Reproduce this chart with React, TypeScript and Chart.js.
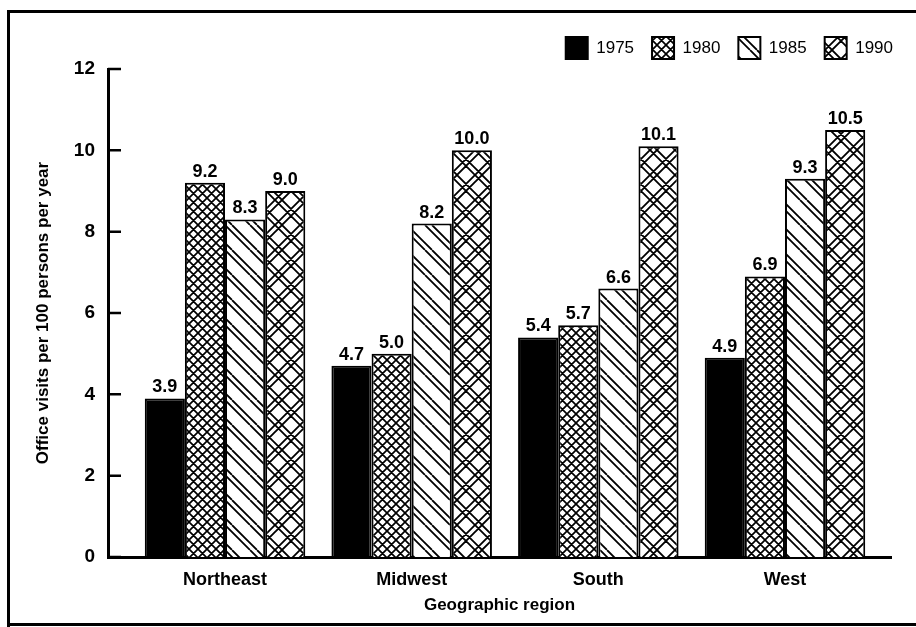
import React, { useEffect, useRef } from "react";
import { Chart, registerables } from "chart.js";

Chart.register(...registerables);

const categories = ["Northeast", "Midwest", "South", "West"];
const years = ["1975", "1980", "1985", "1990"];
const values1975 = [3.9, 4.7, 5.4, 4.9];
const values1980 = [9.2, 5.0, 5.7, 6.9];
const values1985 = [8.3, 8.2, 6.6, 9.3];
const values1990 = [9.0, 10.0, 10.1, 10.5];
const yTicks = [0, 2, 4, 6, 8, 10, 12];
const yTitle = "Office visits per 100 persons per year";
const xTitle = "Geographic region";

const FONT = "'Liberation Sans', Arial, Helvetica, sans-serif";

type Kind = "solid" | "cross" | "back" | "plaid";
const kinds: Kind[] = ["solid", "cross", "back", "plaid"];

function makePattern(ctx: CanvasRenderingContext2D, kind: Kind): CanvasPattern | string {
  if (kind === "solid") return "#000";
  const s = kind === "cross" ? 9 : 25;
  const c = document.createElement("canvas");
  c.width = s;
  c.height = s;
  const g = c.getContext("2d")!;
  g.fillStyle = "#fff";
  g.fillRect(0, 0, s, s);
  g.strokeStyle = "#000";
  g.lineWidth = kind === "cross" ? 1.7 : 1.8;
  g.beginPath();
  const back = (off: number) => {
    for (let k = -1; k <= 1; k++) {
      g.moveTo(k * s + off, 0);
      g.lineTo(k * s + off + s, s);
    }
  };
  const fwd = (off: number) => {
    for (let k = -1; k <= 1; k++) {
      g.moveTo(k * s + off, s);
      g.lineTo(k * s + off + s, 0);
    }
  };
  if (kind === "cross") {
    back(0);
    fwd(0);
  } else if (kind === "back") {
    back(0);
    back(7);
  } else {
    back(0);
    back(7);
    fwd(0);
    fwd(7);
  }
  g.stroke();
  return ctx.createPattern(c, "repeat") as CanvasPattern;
}

const framePlugin = {
  id: "frame",
  beforeDraw(chart: any) {
    const ctx = chart.ctx;
    ctx.save();
    ctx.fillStyle = "#fff";
    ctx.fillRect(0, 0, chart.width, chart.height);
    ctx.strokeStyle = "#000";
    ctx.lineWidth = 3;
    ctx.beginPath();
    ctx.moveTo(8.5, chart.height);
    ctx.lineTo(8.5, 11.5);
    ctx.lineTo(chart.width, 11.5);
    ctx.moveTo(7, 624.5);
    ctx.lineTo(chart.width, 624.5);
    ctx.stroke();
    ctx.restore();
  },
};

const legendShiftPlugin = {
  id: "legendShift",
  afterLayout(chart: any) {
    const l = chart.legend;
    if (l) {
      l.left += 20;
      l.right += 20;
    }
  },
};

const innerTicksPlugin = {
  id: "innerTicks",
  afterDraw(chart: any) {
    const ys = chart.scales.y;
    const ctx = chart.ctx;
    ctx.save();
    ctx.strokeStyle = "#000";
    ctx.lineWidth = 2.5;
    ctx.beginPath();
    ys.ticks.forEach((t: any) => {
      const py = ys.getPixelForValue(t.value);
      ctx.moveTo(ys.right, py);
      ctx.lineTo(ys.right + 13, py);
    });
    ctx.stroke();
    ctx.restore();
  },
};

const valueLabelPlugin = {
  id: "valueLabels",
  afterDatasetsDraw(chart: any) {
    const ctx = chart.ctx;
    ctx.save();
    ctx.font = `bold 18px ${FONT}`;
    ctx.fillStyle = "#000";
    ctx.textAlign = "center";
    ctx.textBaseline = "alphabetic";
    chart.data.datasets.forEach((ds: any, i: number) => {
      const meta = chart.getDatasetMeta(i);
      meta.data.forEach((el: any, j: number) => {
        const v = ds.data[j].y as number;
        ctx.fillText(v.toFixed(1), el.x, el.y - 6);
      });
    });
    ctx.restore();
  },
};

export default function App() {
  const ref = useRef<HTMLCanvasElement>(null);

  useEffect(() => {
    const canvas = ref.current;
    if (!canvas) return;
    const ctx = canvas.getContext("2d")!;
    Chart.defaults.font.family = FONT;
    Chart.defaults.color = "#000";

    const series = [values1975, values1980, values1985, values1990];
    const datasets = years.map((yr, i) => ({
      label: yr,
      data: categories.map((_, j) => ({ x: j, y: series[i][j] })),
      backgroundColor: makePattern(ctx, kinds[i]),
      borderColor: "#000",
      borderWidth: 2,
      categoryPercentage: 0.86,
      barPercentage: 1,
    }));

    const chart = new Chart(canvas, {
      type: "bar",
      data: { datasets } as any,
      options: {
        responsive: false,
        maintainAspectRatio: false,
        animation: false,
        devicePixelRatio: 1,
        layout: { padding: { top: 19, right: 25, bottom: 0, left: 0 } },
        plugins: {
          tooltip: { enabled: false },
          legend: {
            position: "top",
            align: "end",
            labels: {
              boxWidth: 22,
              boxHeight: 22,
              padding: 18,
              color: "#000",
              font: { size: 17, family: FONT },
            },
          },
        },
        scales: {
          x: {
            type: "linear",
            min: -0.627,
            max: 3.568,
            offset: false,
            afterBuildTicks: (s: any) => {
              s.ticks = categories.map((_, i) => ({ value: i }));
            },
            afterFit: (s: any) => {
              s.height = 70;
            },
            ticks: {
              autoSkip: false,
              maxRotation: 0,
              padding: 12,
              color: "#000",
              font: { size: 18, weight: "bold", family: FONT },
              callback: (v: any) => categories[Math.round(Number(v))] ?? "",
            },
            grid: { display: false, drawTicks: false, offset: false },
            border: { display: true, color: "#000", width: 3 },
            title: {
              display: true,
              text: xTitle,
              color: "#000",
              font: { size: 17, weight: "bold", family: FONT },
              padding: { top: 0, bottom: 11 },
            },
          },
          y: {
            type: "linear",
            min: 0,
            max: 12,
            afterBuildTicks: (s: any) => {
              s.ticks = yTicks.map((v) => ({ value: v }));
            },
            afterFit: (s: any) => {
              s.width = 108;
            },
            ticks: {
              padding: 13,
              color: "#000",
              font: { size: 19, weight: "bold", family: FONT },
            },
            grid: { display: false, drawTicks: false },
            border: { display: true, color: "#000", width: 3 },
            title: {
              display: true,
              text: yTitle,
              color: "#000",
              font: { size: 17, weight: "bold", family: FONT },
              padding: { top: 33, bottom: 0 },
            },
          },
        },
      } as any,
      plugins: [framePlugin, legendShiftPlugin, innerTicksPlugin, valueLabelPlugin],
    });

    return () => chart.destroy();
  }, []);

  return (
    <div style={{ position: "absolute", left: 0, top: 0, width: 916, height: 627, background: "#fff" }}>
      <canvas ref={ref} width={916} height={627} style={{ display: "block", width: 916, height: 627 }} />
    </div>
  );
}
